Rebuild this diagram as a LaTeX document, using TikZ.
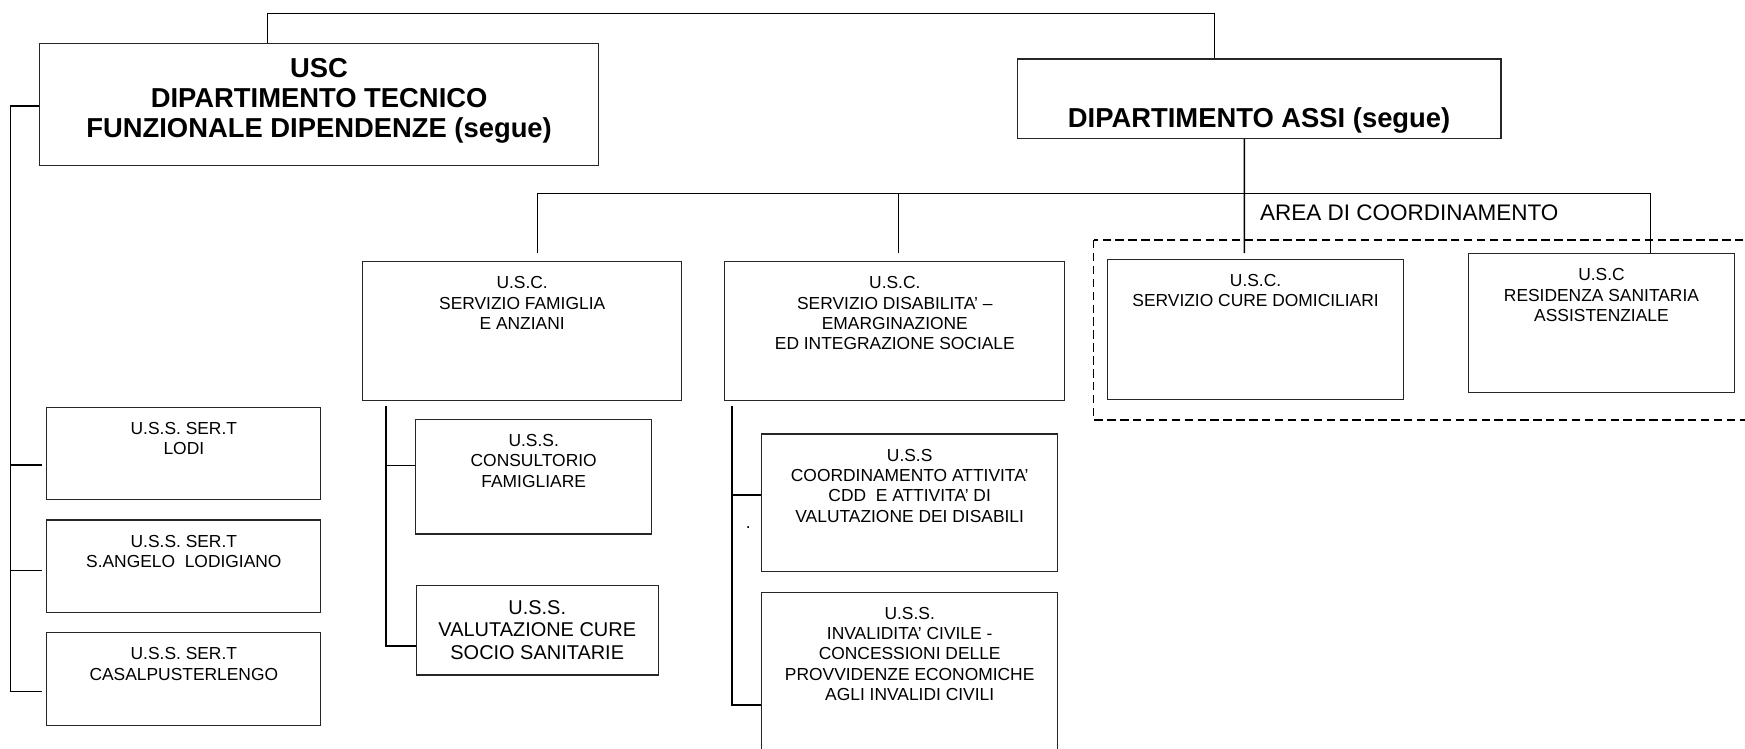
\documentclass[tikz,border=0pt]{standalone}
\usepackage{fontspec}
\setmainfont{Liberation Sans}
\tikzstyle{unit}=[draw=black!85, line width=0.55pt, inner sep=0pt]
\tikzstyle{caption}=[anchor=north, align=center, inner sep=0pt, yshift=-0.27cm,
        font=\fontsize{8.9}{10.4}\selectfont]
\tikzstyle{bigcaption}=[caption, font=\fontsize{10.2}{11.4}\selectfont]
\tikzstyle{headcaption}=[anchor=north, align=center, inner sep=0pt,
        font=\bfseries\fontsize{14}{15.1}\selectfont]
\tikzstyle{areatitle}=[inner sep=0pt, font=\fontsize{11.5}{13}\selectfont]
\tikzstyle{link}=[line width=0.75pt]
\tikzstyle{area}=[line width=0.75pt, dash pattern=on 4.3pt off 2.3pt]

\begin{document}
\begin{tikzpicture}
\useasboundingbox (0,0) rectangle (31.36,-13.46);
% dipartimenti
\node[unit, minimum width=10.05cm, minimum height=2.198cm,
  label={[headcaption, yshift=-0.28cm]north:{USC\\DIPARTIMENTO TECNICO\\FUNZIONALE DIPENDENZE (segue)}}]
  (tecnico) at (5.735,-1.879) {};
\node[unit, minimum width=8.692cm, minimum height=1.432cm,
  label={[headcaption, yshift=-0.88cm]north:{DIPARTIMENTO ASSI (segue)}}]
  (assi) at (22.628,-1.776) {};
% ser.t
\node[unit, minimum width=4.924cm, minimum height=1.66cm,
  label={[caption]north:{U.S.S. SER.T\\LODI}}] (sert1) at (3.304,-8.147) {};
\node[unit, minimum width=4.924cm, minimum height=1.66cm,
  label={[caption]north:{U.S.S. SER.T\\S.ANGELO\ \ LODIGIANO}}] (sert2) at (3.304,-10.175) {};
\node[unit, minimum width=4.924cm, minimum height=1.66cm,
  label={[caption]north:{U.S.S. SER.T\\CASALPUSTERLENGO}}] (sert3) at (3.304,-12.2) {};
% u.s.c.
\node[unit, minimum width=5.728cm, minimum height=2.498cm,
  label={[caption]north:{U.S.C.\\SERVIZIO FAMIGLIA\\E ANZIANI}}] (fam) at (9.384,-5.951) {};
\node[unit, minimum width=6.114cm, minimum height=2.498cm,
  label={[caption]north:{U.S.C.\\SERVIZIO DISABILITA’ –\\EMARGINAZIONE\\ED INTEGRAZIONE SOCIALE}}]
  (disab) at (16.081,-5.951) {};
\node[unit, minimum width=5.32cm, minimum height=2.516cm,
  label={[caption]north:{U.S.C.\\SERVIZIO CURE DOMICILIARI}}] (cure) at (22.564,-5.918) {};
\node[unit, minimum width=4.78cm, minimum height=2.492cm,
  label={[caption]north:{U.S.C\\RESIDENZA SANITARIA\\ASSISTENZIALE}}] (rsa) at (28.78,-5.81) {};
% u.s.s.
\node[unit, minimum width=4.242cm, minimum height=2.06cm,
  label={[caption]north:{U.S.S.\\CONSULTORIO\\FAMIGLIARE}}] (consult) at (9.591,-8.566) {};
\node[unit, minimum width=4.35cm, minimum height=1.604cm,
  label={[bigcaption]north:{U.S.S.\\VALUTAZIONE CURE\\SOCIO SANITARIE}}] (valut) at (9.655,-11.328) {};
\node[unit, minimum width=5.32cm, minimum height=2.474cm,
  label={[caption]north:{U.S.S\\COORDINAMENTO ATTIVITA’\\CDD\ \ E ATTIVITA’ DI\\VALUTAZIONE DEI DISABILI}}]
  (coord) at (16.348,-9.037) {};
\node[unit, minimum width=5.32cm, minimum height=3.156cm,
  label={[caption]north:{U.S.S.\\INVALIDITA’ CIVILE -\\CONCESSIONI DELLE\\PROVVIDENZE ECONOMICHE\\AGLI INVALIDI CIVILI}}]
  (inval) at (16.348,-12.222) {};
\node[caption, anchor=center, yshift=0cm] (dot) at (13.448,-9.214) {.};
% area di coordinamento
\node[areatitle] (areatitle) at (25.327,-3.816) {AREA DI COORDINAMENTO};
\draw[area] (19.652,-4.314) rectangle (32,-7.548);
% collegamenti
\draw[link] ([xshift=-0.925cm]tecnico.north) -- ++(0,0.53) -| ([xshift=-0.798cm]assi.north);
\draw[link] ([yshift=-0.025cm]tecnico.west) -- ++(-0.516,0) |- ([xshift=-0.086cm,yshift=-0.23cm]sert3.west);
\draw[link] ([xshift=-0.086cm,yshift=-0.209cm]sert1.west) -- ++(-0.562,0);
\draw[link] ([xshift=-0.086cm,yshift=-0.081cm]sert2.west) -- ++(-0.562,0);
\draw[link] ([xshift=-0.265cm]assi.south) -- ([xshift=-0.2cm,yshift=0.1cm]cure.north);
\draw[link] ([xshift=0.272cm,yshift=0.138cm]fam.north) -- ++(0,1.078) -| ([xshift=0.88cm]rsa.north);
\draw[link] ([xshift=0.069cm,yshift=0.138cm]disab.north) -- ++(0,1.078);
\draw[link] ([xshift=0.43cm,yshift=-0.09cm]fam.south west) |- ([yshift=-0.282cm]valut.west);
\draw[link] ([yshift=0.198cm]consult.west) -- ++(-0.52,0);
\draw[link] ([xshift=0.144cm,yshift=-0.08cm]disab.south west) |- ([yshift=-0.448cm]inval.west);
\draw[link] ([yshift=0.141cm]coord.west) -- ++(-0.52,0);
\end{tikzpicture}
\end{document}
